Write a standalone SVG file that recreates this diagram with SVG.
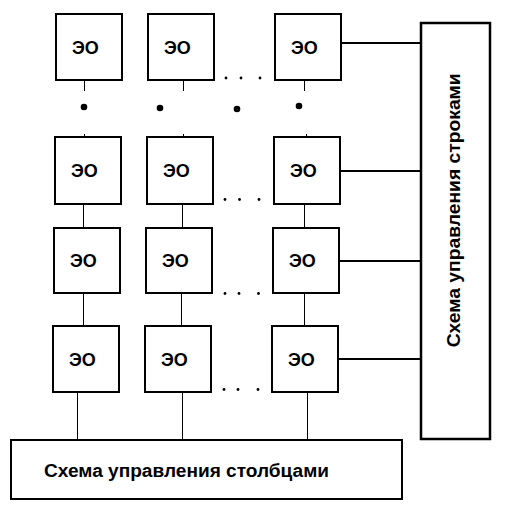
<svg xmlns="http://www.w3.org/2000/svg" width="514" height="510" viewBox="0 0 514 510">
<style>
.box{fill:#fff;stroke:#000;stroke-width:2}
.lbl{font-family:"Liberation Sans",Arial,sans-serif;font-weight:bold;font-size:18px;fill:#000}
.big{font-family:"Liberation Sans",Arial,sans-serif;font-weight:bold;font-size:18px;fill:#000}
.thin{stroke:#000;stroke-width:1;fill:none}
.thick{stroke:#000;stroke-width:2;fill:none}
</style>
<rect width="514" height="510" fill="#fff"/>
<g id="connectors">
<path class="thin" d="M84.5 80V91M84.5 134V137M83.5 204V228M83.5 293V326M77.5 392V440"/>
<path class="thin" d="M183.5 80V91M183.5 134V137M182.5 204V228M181.5 293V326M182.5 392V440"/>
<path class="thin" d="M304.5 80V91M306.5 134V137M304.5 204V228M304.5 293V326M307.5 392V440"/>
<path class="thick" d="M341 43H421M337 171H421M339 261H421M336 359H421"/>
<g fill="#000">
<circle cx="84" cy="107" r="3.3"/><circle cx="160" cy="108" r="3.3"/><circle cx="237" cy="109" r="3.3"/><circle cx="299" cy="106" r="3.3"/>
<circle cx="226" cy="78" r="1.4"/><circle cx="241" cy="78" r="1.4"/><circle cx="260" cy="78" r="1.4"/>
<circle cx="225" cy="199.5" r="1.4"/><circle cx="239.5" cy="199.5" r="1.4"/><circle cx="259" cy="199.5" r="1.4"/>
<circle cx="225" cy="293.5" r="1.4"/><circle cx="239" cy="293.5" r="1.4"/><circle cx="258.5" cy="293.5" r="1.4"/>
<circle cx="224" cy="389.5" r="1.4"/><circle cx="238" cy="389.5" r="1.4"/><circle cx="258" cy="389.5" r="1.4"/>
</g>
</g>
<g id="eo-1-1"><rect class="box" x="56" y="14" width="66" height="66"/><text class="lbl" x="72" y="54">ЭО</text></g>
<g id="eo-1-2"><rect class="box" x="148" y="14" width="66" height="66"/><text class="lbl" x="164" y="54">ЭО</text></g>
<g id="eo-1-3"><rect class="box" x="275" y="14" width="66" height="66"/><text class="lbl" x="291" y="54">ЭО</text></g>
<g id="eo-2-1"><rect class="box" x="55" y="137" width="66" height="67"/><text class="lbl" x="71" y="177">ЭО</text></g>
<g id="eo-2-2"><rect class="box" x="147" y="137" width="66" height="67"/><text class="lbl" x="163" y="177">ЭО</text></g>
<g id="eo-2-3"><rect class="box" x="274" y="137" width="66" height="67"/><text class="lbl" x="290" y="177">ЭО</text></g>
<g id="eo-3-1"><rect class="box" x="54" y="228" width="66" height="65"/><text class="lbl" x="70" y="267">ЭО</text></g>
<g id="eo-3-2"><rect class="box" x="146" y="228" width="66" height="65"/><text class="lbl" x="162" y="267">ЭО</text></g>
<g id="eo-3-3"><rect class="box" x="273" y="228" width="66" height="65"/><text class="lbl" x="289" y="267">ЭО</text></g>
<g id="eo-4-1"><rect class="box" x="53" y="326" width="66" height="66"/><text class="lbl" x="69" y="366">ЭО</text></g>
<g id="eo-4-2"><rect class="box" x="145" y="326" width="66" height="66"/><text class="lbl" x="161" y="366">ЭО</text></g>
<g id="eo-4-3"><rect class="box" x="272" y="326" width="66" height="66"/><text class="lbl" x="288" y="366">ЭО</text></g>
<g id="row-control"><rect class="box" x="421" y="23" width="69" height="416" style="stroke-width:2.5"/><text class="big" transform="translate(460 210.3) rotate(-90)" text-anchor="middle" textLength="274" lengthAdjust="spacingAndGlyphs">Схема управления строками</text></g>
<g id="col-control"><rect class="box" x="11" y="440" width="391" height="59"/><text class="big" x="44" y="477" textLength="285" lengthAdjust="spacingAndGlyphs">Схема управления столбцами</text></g>
</svg>
